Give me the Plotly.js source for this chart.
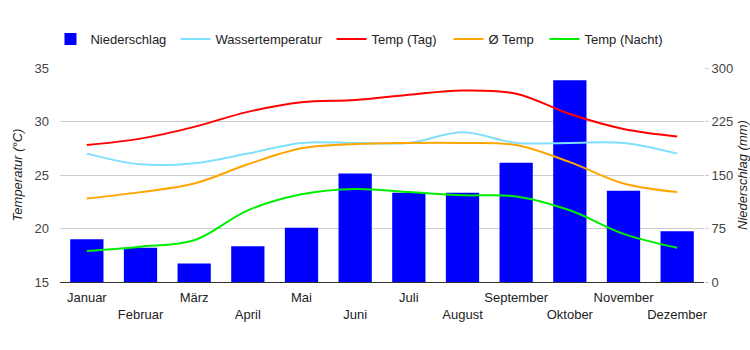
<!DOCTYPE html>
<html>
<head>
<meta charset="utf-8">
<script src="https://cdn.plot.ly/plotly-3.0.1.min.js"></script>
<style>html,body{margin:0;padding:0;background:#fff;}#chart{width:750px;height:350px;}</style>
</head>
<body>
<div id="chart"></div>
<script>
const months = ["Januar","Februar","März","April","Mai","Juni","Juli","August","September","Oktober","November","Dezember"];
const niederschlag = [60, 48, 26, 50, 76, 152, 125, 125, 167, 283, 128, 71];
const wassertemp = [27.0, 26.0, 26.1, 27.0, 28.0, 28.0, 28.0, 29.0, 28.0, 28.0, 28.0, 27.0];
const tempTag = [27.8, 28.4, 29.5, 30.9, 31.8, 32.0, 32.5, 32.9, 32.6, 30.7, 29.3, 28.6];
const tempAvg = [22.8, 23.4, 24.2, 26.0, 27.5, 27.9, 28.0, 28.0, 27.8, 26.2, 24.2, 23.4];
const tempNacht = [17.9, 18.3, 18.9, 21.7, 23.2, 23.7, 23.4, 23.1, 23.0, 21.7, 19.5, 18.2];

const tickText = months.map((m, i) => i % 2 === 0 ? m : "<br>" + m);

function line(name, y, color, leg) {
  return {type: "scatter", mode: "lines", name: name, x: months, y: y, yaxis: "y2", legend: leg,
          line: {color: color, width: 2, shape: "spline", smoothing: 1}, hoverinfo: "y"};
}

const data = [
  {type: "bar", name: "Niederschlag", x: months, y: niederschlag, marker: {color: "#0000ff"}, yaxis: "y", legend: "legend"},
  line("Wassertemperatur", wassertemp, "#80dfff", "legend2"),
  line("Temp (Tag)", tempTag, "#ff0000", "legend3"),
  line("Ø Temp", tempAvg, "#ffa500", "legend4"),
  line("Temp (Nacht)", tempNacht, "#00ee00", "legend5")
];

function leg(x) {
  return {orientation: "h", x: x, xanchor: "left", y: 1.135, yanchor: "middle",
          font: {size: 13, color: "#222"}, bgcolor: "rgba(0,0,0,0)"};
}

const layout = {
  width: 750, height: 350,
  margin: {l: 60, r: 46, t: 68, b: 68, autoexpand: false},
  paper_bgcolor: "#fff", plot_bgcolor: "#fff",
  font: {family: "'Liberation Sans', Arial, sans-serif", size: 13, color: "#222"},
  bargap: 0.38,
  showlegend: true,
  legend: leg(-0.0148),
  legend2: leg(0.1794),
  legend3: leg(0.4216),
  legend4: leg(0.6033),
  legend5: leg(0.7523),
  xaxis: {type: "category", tickmode: "array", tickvals: months, ticktext: tickText, tickangle: 0,
          showgrid: false, showline: true, linecolor: "#333", linewidth: 1, ticks: "",
          ticklabelstandoff: 3,
          tickfont: {size: 13, color: "#222"}, fixedrange: true, automargin: false},
  yaxis: {side: "right", range: [0, 300], tickvals: [0, 75, 150, 225, 300], showgrid: true,
          gridcolor: "#cccccc", zeroline: false, ticks: "outside", ticklen: 4, tickcolor: "#cccccc",
          tickfont: {size: 13, color: "#444"}, automargin: false,
          title: {text: "<i>Niederschlag (mm)</i>", font: {size: 13, color: "#222"}, standoff: 8}},
  yaxis2: {overlaying: "y", side: "left", range: [15, 35], tickvals: [15, 20, 25, 30, 35],
           showgrid: false, zeroline: false, ticks: "", tickfont: {size: 13, color: "#444"}, automargin: false,
           ticklabelstandoff: 10,
           title: {text: "<i>Temperatur (°C)</i>", font: {size: 13, color: "#222"}, standoff: 8}}
};

Plotly.newPlot("chart", data, layout, {displayModeBar: false, staticPlot: true});
</script>
</body>
</html>
